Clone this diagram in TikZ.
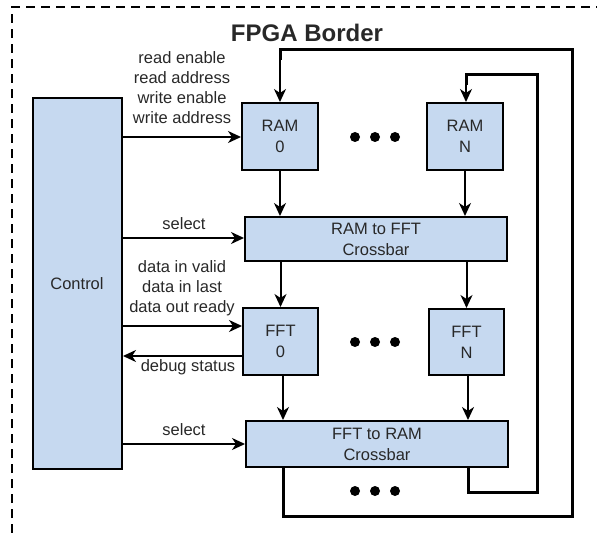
\documentclass[tikz,border=0pt]{standalone}
\usepackage{fontspec}
\setmainfont{Liberation Sans}
\usetikzlibrary{arrows.meta,calc}
\definecolor{boxblue}{RGB}{198,217,240}
\definecolor{txt}{RGB}{40,40,40}
\begin{document}
\begin{tikzpicture}[x=1bp,y=-1bp,
  blk/.style={draw=black,fill=boxblue,line width=2bp,inner sep=0pt,align=center,text=txt,
    font=\fontsize{16.5bp}{21bp}\selectfont},
  lbl/.style={inner sep=0pt,align=center,text=txt,font=\fontsize{16.5bp}{20bp}\selectfont},
  arr/.style={line width=2bp,-{Stealth[length=13bp,width=12bp,inset=4bp]}},
  loopln/.style={line width=3bp},
  dot/.style={circle,fill=black,inner sep=0pt,minimum size=10bp}]
\useasboundingbox (0,0) rectangle (597,533);
% FPGA border
\draw[line width=2bp,dash pattern=on 9bp off 6bp] (12,533) -- (12,7) -- (600,7);
\node[inner sep=0pt,text=txt,font=\fontsize{24bp}{28bp}\selectfont\bfseries] (title) at (307,33) {FPGA Border};
% blocks
\node[blk,minimum width=89bp,minimum height=371bp] (ctrl) at (77.5,283.5) {};
\node[lbl] (ctrltxt) at (77,284) {Control};
\node[blk,minimum width=76bp,minimum height=67bp] (ram0) at (280,136.5) {RAM\\0};
\node[blk,minimum width=76bp,minimum height=67bp] (ramN) at (465,136.5) {RAM\\N};
\node[blk,minimum width=262bp,minimum height=44bp] (xbar1) at (376,239) {RAM to FFT\\Crossbar};
\node[blk,minimum width=75bp,minimum height=67bp] (fft0) at (280.5,341.5) {FFT\\0};
\node[blk,minimum width=75bp,minimum height=66bp] (fftN) at (466.5,342) {FFT\\N};
\node[blk,minimum width=262bp,minimum height=46bp] (xbar2) at (377,444) {FFT to RAM\\Crossbar};
% dots
\foreach \y/\n in {137/a,342/b,491/c}{
  \node[dot] (d1\n) at (355,\y) {};
  \node[dot] (d2\n) at (375,\y) {};
  \node[dot] (d3\n) at (395,\y) {};
}
% labels
\node[lbl] (l1) at (182,88) {read enable\\read address\\write enable\\write address};
\node[lbl] (l2) at (184,224) {select};
\node[lbl] (l3) at (182,288) {data in valid\\data in last\\data out ready};
\node[lbl] (l4) at (188,367) {debug status};
\node[lbl] (l5) at (184,430) {select};
% control connectors
\draw[arr] (ctrl.east |- 0,137) -- (ram0.west |- 0,137);
\draw[arr] (ctrl.east |- 0,238) -- (xbar1.west |- 0,238);
\draw[arr] (ctrl.east |- 0,326) -- (fft0.west |- 0,326);
\draw[arr] (fft0.west |- 0,356) -- (ctrl.east |- 0,356);
\draw[arr] (ctrl.east |- 0,444) -- (xbar2.west |- 0,444);
% data path
\draw[arr] (ram0.south) -- (ram0.south |- xbar1.north);
\draw[arr] (ramN.south) -- (ramN.south |- xbar1.north);
\draw[arr] (fft0.north |- xbar1.south) -- (fft0.north);
\draw[arr] (fftN.north |- xbar1.south) -- (fftN.north);
\coordinate (f0s) at ($(fft0.south)+(2.5,0)$);
\draw[arr] (f0s) -- (f0s |- xbar2.north);
\coordinate (fNs) at ($(fftN.south)+(1.5,0)$);
\draw[arr] (fNs) -- (fNs |- xbar2.north);
% loops
\coordinate (o1) at (283,516);
\coordinate (o2) at (572,516);
\coordinate (o3) at (572,50);
\coordinate (o4) at (280,50);
\draw[loopln] (o1 |- xbar2.south) -- (o1) -- (o2) -- (o3) -- (o4) -- ++(0,10);
\draw[arr] (o4) -- (ram0.north);
\coordinate (i1) at (468,492);
\coordinate (i2) at (537,492);
\coordinate (i3) at (537,75);
\coordinate (i4) at (466,75);
\draw[loopln] (i1 |- xbar2.south) -- (i1) -- (i2) -- (i3) -- (i4) -- ++(0,10);
\draw[arr] (i4) -- (i4 |- ramN.north);
\end{tikzpicture}
\end{document}
